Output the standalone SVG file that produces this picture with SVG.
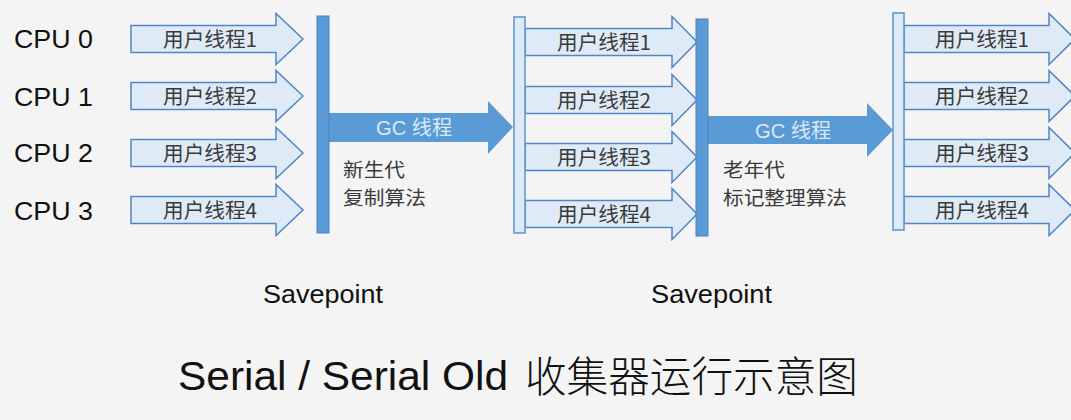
<svg xmlns="http://www.w3.org/2000/svg" width="1071" height="420" viewBox="0 0 1071 420">
<style>
.bg{fill:#f4f4f4}
.ua{fill:#deebf7;stroke:#4f86c6;stroke-width:1.5;stroke-linejoin:miter}
.ga{fill:#5b9bd5;stroke:none}
.db{fill:#5b9bd5;stroke:#4a80bf;stroke-width:1}
.lb{fill:#deebf7;stroke:#5b93cf;stroke-width:1.5}
.ut{font-family:"Noto Sans CJK SC",sans-serif;font-size:20px;fill:#3a3a3a}
.gt{font-family:"Liberation Sans","Noto Sans CJK SC",sans-serif;font-size:20px;fill:#dce9f6}
.nt{font-family:"Noto Sans CJK SC",sans-serif;font-size:19px;fill:#3a3a3a}
.cpu{font-family:"Liberation Sans",Arial,sans-serif;font-size:26px;fill:#111}
.sp{font-family:"Liberation Sans",Arial,sans-serif;font-size:26px;fill:#111}
.t1{font-family:"Liberation Sans",Arial,sans-serif;font-size:40px;fill:#111}
.t2{font-family:"Noto Sans CJK SC",sans-serif;font-size:42px;font-weight:300;fill:#111}
</style>
<rect class="bg" x="0" y="0" width="1071" height="420"/>

<g id="cpu-labels">
<text class="cpu" x="14" y="48" textLength="79" lengthAdjust="spacingAndGlyphs">CPU 0</text>
<text class="cpu" x="14" y="106" textLength="79" lengthAdjust="spacingAndGlyphs">CPU 1</text>
<text class="cpu" x="14" y="162" textLength="79" lengthAdjust="spacingAndGlyphs">CPU 2</text>
<text class="cpu" x="14" y="220" textLength="79" lengthAdjust="spacingAndGlyphs">CPU 3</text>
</g>

<g id="threads-left">
<polygon class="ua" points="131,25.5 276,25.5 276,13.5 303,39 276,64.5 276,52.5 131,52.5"/>
<text class="ut" x="163" y="47" textLength="94" lengthAdjust="spacingAndGlyphs">用户线程1</text>
<polygon class="ua" points="131,82.5 276,82.5 276,70.5 303,96 276,121.5 276,109.5 131,109.5"/>
<text class="ut" x="163" y="104" textLength="94" lengthAdjust="spacingAndGlyphs">用户线程2</text>
<polygon class="ua" points="131,139.5 276,139.5 276,127.5 303,153 276,178.5 276,166.5 131,166.5"/>
<text class="ut" x="163" y="161" textLength="94" lengthAdjust="spacingAndGlyphs">用户线程3</text>
<polygon class="ua" points="131,196.5 276,196.5 276,184.5 303,210 276,235.5 276,223.5 131,223.5"/>
<text class="ut" x="163" y="218" textLength="94" lengthAdjust="spacingAndGlyphs">用户线程4</text>
</g>

<g id="threads-middle">
<polygon class="ua" points="525,28.5 672,28.5 672,16.5 697,42 672,67.5 672,55.5 525,55.5"/>
<text class="ut" x="557" y="50" textLength="94" lengthAdjust="spacingAndGlyphs">用户线程1</text>
<polygon class="ua" points="525,86.5 672,86.5 672,74.5 697,100 672,125.5 672,113.5 525,113.5"/>
<text class="ut" x="557" y="108" textLength="94" lengthAdjust="spacingAndGlyphs">用户线程2</text>
<polygon class="ua" points="525,143.5 672,143.5 672,131.5 697,157 672,182.5 672,170.5 525,170.5"/>
<text class="ut" x="557" y="165" textLength="94" lengthAdjust="spacingAndGlyphs">用户线程3</text>
<polygon class="ua" points="525,200.5 672,200.5 672,188.5 697,214 672,239.5 672,227.5 525,227.5"/>
<text class="ut" x="557" y="222" textLength="94" lengthAdjust="spacingAndGlyphs">用户线程4</text>
</g>

<g id="threads-right">
<polygon class="ua" points="904,25.5 1049,25.5 1049,13.5 1075,39 1049,64.5 1049,52.5 904,52.5"/>
<text class="ut" x="935" y="47" textLength="94" lengthAdjust="spacingAndGlyphs">用户线程1</text>
<polygon class="ua" points="904,82.5 1049,82.5 1049,70.5 1075,96 1049,121.5 1049,109.5 904,109.5"/>
<text class="ut" x="935" y="104" textLength="94" lengthAdjust="spacingAndGlyphs">用户线程2</text>
<polygon class="ua" points="904,139.5 1049,139.5 1049,127.5 1075,153 1049,178.5 1049,166.5 904,166.5"/>
<text class="ut" x="935" y="161" textLength="94" lengthAdjust="spacingAndGlyphs">用户线程3</text>
<polygon class="ua" points="904,196.5 1049,196.5 1049,184.5 1075,210 1049,235.5 1049,223.5 904,223.5"/>
<text class="ut" x="935" y="218" textLength="94" lengthAdjust="spacingAndGlyphs">用户线程4</text>
</g>

<g id="connectors">
<polygon class="ga" points="329,113 488,113 488,101 513,127 488,154 488,142 329,142"/>
<text class="gt" x="376" y="135" textLength="76" lengthAdjust="spacingAndGlyphs">GC 线程</text>
<polygon class="ga" points="708,116 867,116 867,103 893,130 867,157 867,144 708,144"/>
<text class="gt" x="755" y="138" textLength="76" lengthAdjust="spacingAndGlyphs">GC 线程</text>
</g>

<g id="safepoint-1">
<rect class="db" x="317" y="16" width="12" height="217"/>
<text class="sp" x="263" y="303" textLength="120" lengthAdjust="spacingAndGlyphs">Savepoint</text>
</g>
<g id="resume-1">
<rect class="lb" x="514" y="17" width="11" height="216"/>
</g>
<g id="safepoint-2">
<rect class="db" x="696" y="19" width="12" height="217"/>
<text class="sp" x="651" y="303" textLength="121" lengthAdjust="spacingAndGlyphs">Savepoint</text>
</g>
<g id="resume-2">
<rect class="lb" x="893" y="13" width="11" height="217"/>
</g>

<g id="note-young">
<text class="nt" x="343" y="177" textLength="62" lengthAdjust="spacingAndGlyphs">新生代</text>
<text class="nt" x="343" y="205" textLength="83" lengthAdjust="spacingAndGlyphs">复制算法</text>
</g>
<g id="note-old">
<text class="nt" x="723" y="177" textLength="62" lengthAdjust="spacingAndGlyphs">老年代</text>
<text class="nt" x="723" y="205" textLength="124" lengthAdjust="spacingAndGlyphs">标记整理算法</text>
</g>

<g id="title">
<text class="t1" x="178" y="390" textLength="330" lengthAdjust="spacingAndGlyphs">Serial / Serial Old</text>
<text class="t2" x="525" y="392" textLength="333" lengthAdjust="spacingAndGlyphs">收集器运行示意图</text>
</g>
</svg>
